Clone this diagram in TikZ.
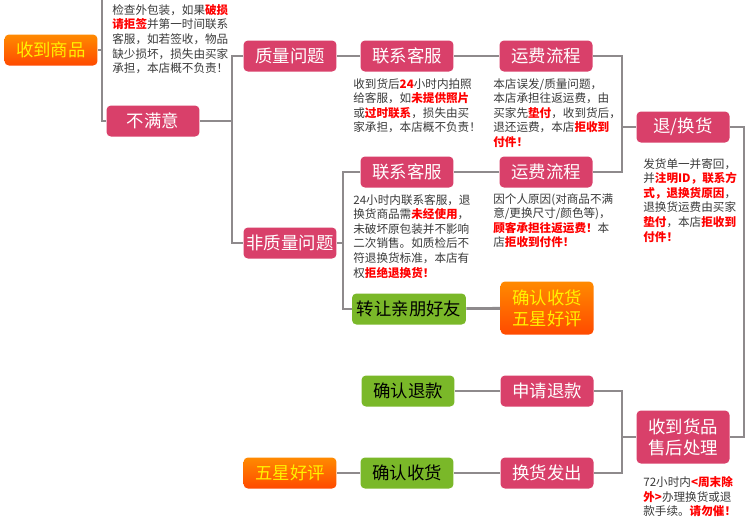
\documentclass[tikz,border=0pt]{standalone}
\usepackage{fontspec}
\setmainfont{Noto Sans CJK SC}
\usetikzlibrary{positioning}
\definecolor{rosebox}{HTML}{D9406A}
\definecolor{leafbox}{HTML}{7AB829}
\definecolor{linegray}{HTML}{8E8A8C}
\definecolor{notegray}{HTML}{3A3A3A}
\definecolor{sunhigh}{HTML}{FF8A00}
\definecolor{sunlow}{HTML}{FF4A00}
\newcommand{\warn}[1]{{\color{red}\bfseries #1}}

\begin{document}
\begin{tikzpicture}[x=0.02cm, y=-0.02cm,
    box/.style={rectangle, rounded corners=2.5pt, minimum width=1.86cm,
      minimum height=0.62cm, inner sep=0pt, font=\fontsize{9.9}{12}\selectfont},
    stage/.style={box, fill=rosebox, text=white},
    done/.style={box, fill=leafbox, text=black},
    reward/.style={box, top color=sunhigh, bottom color=sunlow, text=yellow},
    note/.style={anchor=north west, inner sep=0pt, align=left, text=notegray,
      font=\fontsize{6.6}{8.3}\selectfont},
    link/.style={draw=linegray, line width=1.6pt}]

  \useasboundingbox[fill=white] (0,0) rectangle (750,525);

  \node[reward] (received) at (51,50) {收到商品};
  \coordinate (feed) at (102,0);
  \node[note] (checktip) at (112,4) {检查外包装，如果\warn{破损}\\
    \warn{请拒签}并第一时间联系\\客服，如若签收，物品\\缺少损坏，损失由买家\\
    承担，本店概不负责！};
  \node[stage] (unhappy) at (153,121) {不满意};
  \coordinate (fork1) at (232,121);

  \node[stage] (quality) at (290,56) {质量问题};
  \node[stage] (nonquality) at (290,243) {非质量问题};

  \node[stage] (contact1) at (407,56) {联系客服};
  \node[stage] (freight1) at (546,56) {运费流程};
  \node[note] (phototip) at (353,78) {收到货后\warn{24}小时内拍照\\
    给客服，如\warn{未提供照片}\\或\warn{过时联系}，损失由买\\家承担，本店概不负责！};
  \node[note] (costtip1) at (493,78) {本店误发/质量问题，\\本店承担往返运费，由\\
    买家先\warn{垫付}，收到货后，\\退还运费，本店\warn{拒收到}\\\warn{付件！}};

  \coordinate (fork2) at (343,243);
  \node[stage] (contact2) at (407,172) {联系客服};
  \node[stage] (freight2) at (546,172) {运费流程};
  \node[note] (usetip) at (353,194) {24小时内联系客服，退\\
    换货商品需\warn{未经使用}，\\未破坏原包装并不影响\\二次销售。如质检后不\\
    符退换货标准，本店有\\权\warn{拒绝退换货！}};
  \node[note] (costtip2) at (493,193) {因个人原因(对商品不满\\
    意/更换尺寸/颜色等)，\\\warn{顾客承担往返运费！}本\\店\warn{拒收到付件！}};

  \node[done, minimum width=2.28cm] (friend) at (409,309) {转让亲朋好友};
  \node[reward, minimum height=1.06cm, align=center] (praise1) at (547,308)
    {确认收货\\五星好评};

  \coordinate (fork3) at (622,127);
  \node[stage] (exchange) at (683,127) {退/换货};
  \node[note] (returntip) at (643,158) {发货单一并寄回，\\
    并\warn{注明ID，联系方}\\\warn{式，退换货原因}，\\退换货运费由买家\\
    \warn{垫付}，本店\warn{拒收到}\\\warn{付件！}};
  \coordinate (loop) at (744,300);

  \node[stage, minimum height=1.06cm, align=center] (handle) at (683,437)
    {收到货品\\售后处理};
  \node[note] (hourtip) at (643,476) {72小时内\warn{<周末除}\\
    \warn{外>}办理换货或退\\款手续。\warn{请勿催！}};
  \coordinate (fork4) at (622,437);

  \node[stage] (applyrefund) at (547,391) {申请退款};
  \node[done] (confirmrefund) at (408,391) {确认退款};
  \node[stage] (ship) at (547,473) {换货发出};
  \node[done] (confirmrecv) at (407,473) {确认收货};
  \node[reward] (praise2) at (290,473) {五星好评};

  % connectors
  \draw[link] (received.east) -- (received.east -| feed);
  \draw[link] (feed) |- (unhappy.west);
  \draw[link] (unhappy.east) -- (fork1);
  \draw[link] (quality.west) -| (fork1) |- (nonquality.west);
  \draw[link] (quality) -- (contact1);
  \draw[link] (contact1) -- (freight1);
  \draw[link] (nonquality.east) -- (fork2);
  \draw[link] (contact2.west) -| (fork2) |- (friend.west);
  \draw[link] (contact2) -- (freight2);
  \draw[link] (friend) -- (praise1);
  \draw[link] (freight1.east) -| (fork3) |- (freight2.east);
  \draw[link] (fork3) -- (exchange.west);
  \draw[link] (exchange.east) -| (loop) |- (handle.east);
  \draw[link] (handle.west) -- (fork4);
  \draw[link] (applyrefund.east) -| (fork4) |- (ship.east);
  \draw[link] (applyrefund) -- (confirmrefund);
  \draw[link] (ship) -- (confirmrecv);
  \draw[link] (confirmrecv) -- (praise2);
\end{tikzpicture}
\end{document}
